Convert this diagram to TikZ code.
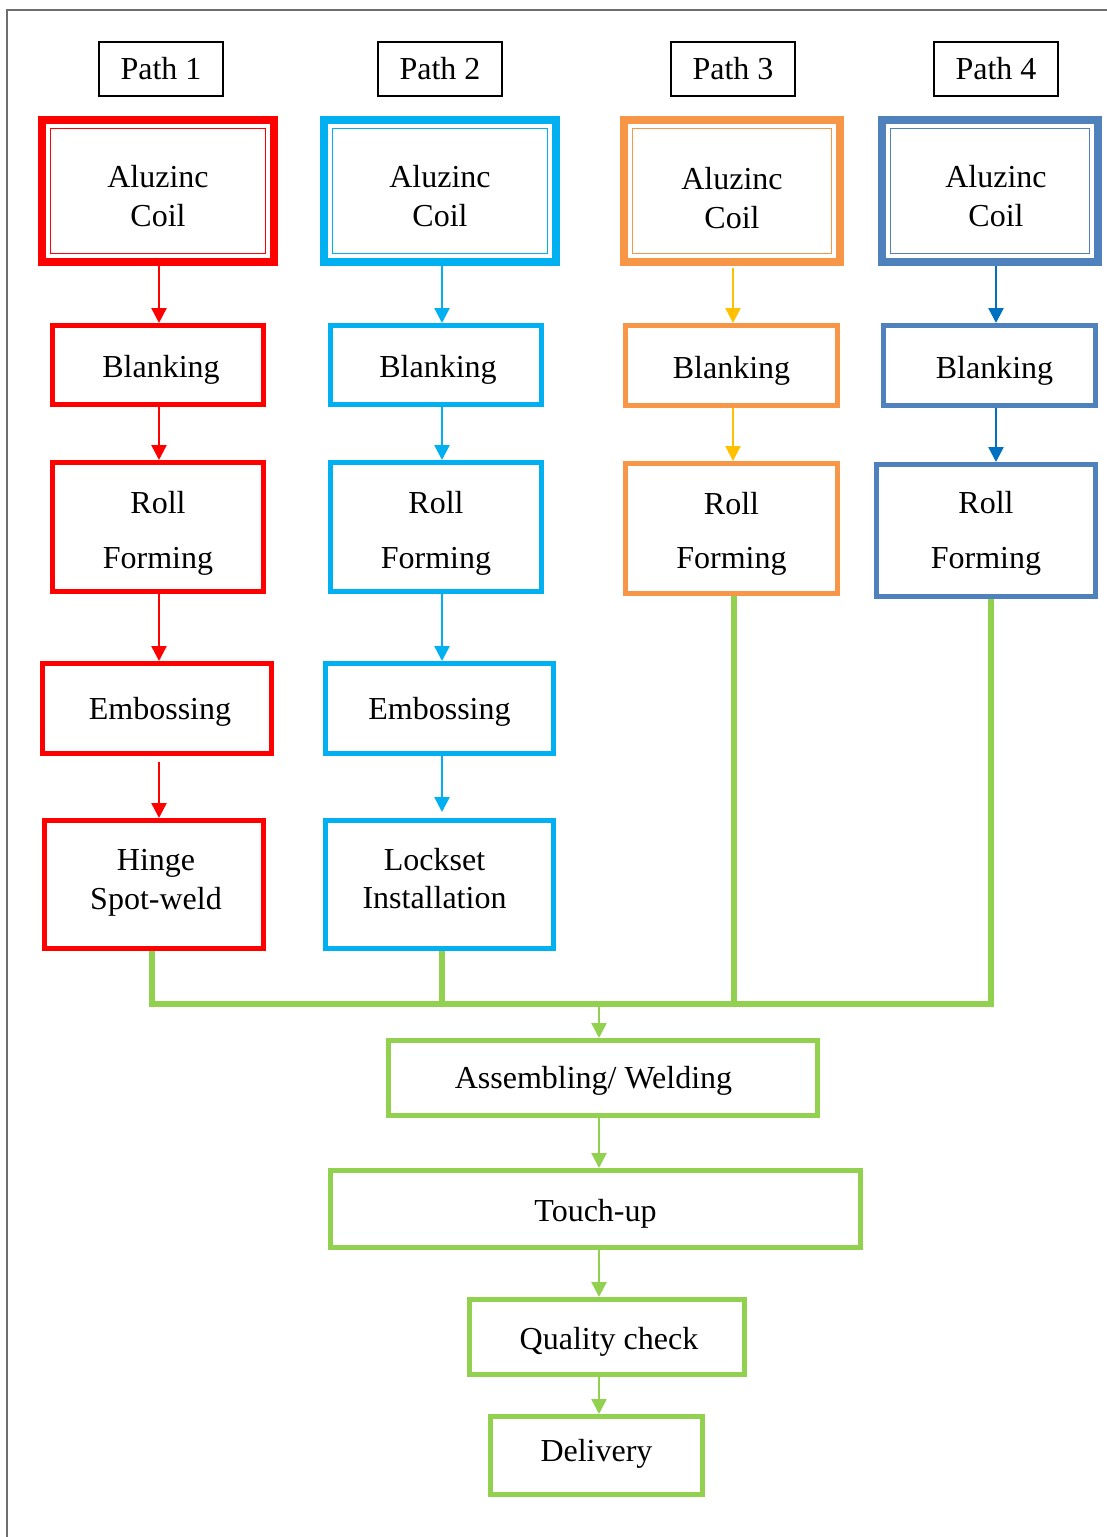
\documentclass[tikz,border=0pt]{standalone}
\usepackage{fontspec}
\setmainfont{Liberation Serif}
\usetikzlibrary{arrows.meta}
\definecolor{cred}{HTML}{FF0000}
\definecolor{ccyan}{HTML}{00B0F0}
\definecolor{corange}{HTML}{F79646}
\definecolor{csteel}{HTML}{4F81BD}
\definecolor{cgreen}{HTML}{92D050}
\definecolor{cyellow}{HTML}{FFC000}
\definecolor{cdblue}{HTML}{0070C0}
\definecolor{cframe}{HTML}{6E6E6E}
% shift node text: #1 horizontal (twice the offset), #2 vertical
\newcommand\mvtext[3]{\hspace*{#1}\raisebox{#2}[\height][\depth]{\begin{tabular}{@{}c@{}}#3\end{tabular}}}
\begin{document}
\begin{tikzpicture}[x=0.5pt,y=-0.5pt,
  every node/.style={font=\fontsize{16}{19.2}\selectfont, align=center, inner sep=0pt},
  pathlabel/.style={draw=black, line width=1pt, minimum width=62pt, minimum height=27pt},
  coil/.style={draw=#1, line width=4pt, minimum height=71pt},
  stepbox/.style={draw=#1, line width=2.5pt},
  arr/.style={draw=#1, line width=1.25pt, -{Triangle[width=7.5pt,length=7.5pt]}},
  gline/.style={draw=cgreen, line width=3pt, line join=miter},
]
\useasboundingbox (0,0) rectangle (1107,1537);
\draw[cframe, line width=0.75pt] (7,1537) -- (7,10) -- (1107,10);

% path labels
\node[pathlabel] (p1) at (161,69) {Path 1};
\node[pathlabel] (p2) at (440,69) {Path 2};
\node[pathlabel] (p3) at (733,69) {Path 3};
\node[pathlabel] (p4) at (996,69) {Path 4};

% coils
\node[coil=cred, minimum width=116pt] (c1) at (158,191) {\mvtext{0pt}{-4.1pt}{Aluzinc\\Coil}};
\node[coil=ccyan, minimum width=116pt] (c2) at (440,191) {\mvtext{0pt}{-4.1pt}{Aluzinc\\Coil}};
\node[coil=corange, minimum width=108pt] (c3) at (732,191) {\mvtext{0pt}{-5.1pt}{Aluzinc\\Coil}};
\node[coil=csteel, minimum width=108pt] (c4) at (990,191) {\mvtext{6pt}{-4.1pt}{Aluzinc\\Coil}};
\foreach \n/\c in {c1/cred,c2/ccyan,c3/corange,c4/csteel}{
  \draw[\c, line width=0.85pt] ([shift={(6.25pt,-6.25pt)}]\n.north west) rectangle ([shift={(-6.25pt,6.25pt)}]\n.south east);
}

% blanking
\node[stepbox=cred, minimum width=105.5pt, minimum height=39.5pt] (b1) at (158,365) {\mvtext{3pt}{-2.5pt}{Blanking}};
\node[stepbox=ccyan, minimum width=105.5pt, minimum height=39.5pt] (b2) at (436,365) {\mvtext{2pt}{-2.5pt}{Blanking}};
\node[stepbox=corange, minimum width=106pt, minimum height=40pt] (b3) at (731.5,365.5) {\mvtext{0pt}{-2.5pt}{Blanking}};
\node[stepbox=csteel, minimum width=106pt, minimum height=40pt] (b4) at (989.5,365.5) {\mvtext{5pt}{-2.5pt}{Blanking}};

% roll forming
\node[stepbox=cred, minimum width=105.5pt, minimum height=64.5pt] (r1) at (158,527) {\mvtext{0pt}{-3.1pt}{Roll\\[8pt]Forming}};
\node[stepbox=ccyan, minimum width=105.5pt, minimum height=64.5pt] (r2) at (436,527) {\mvtext{0pt}{-3.1pt}{Roll\\[8pt]Forming}};
\node[stepbox=corange, minimum width=106pt, minimum height=65pt] (r3) at (731.5,528.5) {\mvtext{0pt}{-2.6pt}{Roll\\[8pt]Forming}};
\node[stepbox=csteel, minimum width=109.5pt, minimum height=66pt] (r4) at (986,530.5) {\mvtext{0pt}{-1.35pt}{Roll\\[8pt]Forming}};

% embossing
\node[stepbox=cred, minimum width=114.5pt, minimum height=45pt] (e1) at (157,708.5) {\mvtext{3pt}{-1.5pt}{Embossing}};
\node[stepbox=ccyan, minimum width=114pt, minimum height=45pt] (e2) at (439.5,708.5) {\mvtext{0pt}{-1.5pt}{Embossing}};

% hinge / lockset
\node[stepbox=cred, minimum width=109.5pt, minimum height=64pt] (h1) at (154,884.5) {\mvtext{2pt}{1.1pt}{Hinge\\Spot-weld}};
\node[stepbox=ccyan, minimum width=114pt, minimum height=64pt] (l2) at (439.5,884.5) {\mvtext{-5pt}{1.4pt}{Lockset\\Installation}};

% green
\node[stepbox=cgreen, minimum width=214.5pt, minimum height=37.5pt] (asm) at (603,1078) {\mvtext{-9.5pt}{-1.5pt}{Assembling/ Welding}};
\node[stepbox=cgreen, minimum width=265pt, minimum height=38.5pt] (tu) at (595.5,1209) {\mvtext{0pt}{-2.5pt}{Touch-up}};
\node[stepbox=cgreen, minimum width=137.5pt, minimum height=37.5pt] (qc) at (607,1337) {\mvtext{2pt}{-2.5pt}{Quality check}};
\node[stepbox=cgreen, minimum width=106pt, minimum height=39pt] (dl) at (596.5,1455.5) {\mvtext{0pt}{1pt}{Delivery}};

% x positions of connectors
\coordinate (xr) at (159,0);
\coordinate (xc) at (442,0);
\coordinate (xo) at (733,0);
\coordinate (xs) at (996,0);
\coordinate (xg) at (599,0);
\coordinate (g1) at (152,0);
\coordinate (g2) at (442,0);
\coordinate (g3) at (734,0);
\coordinate (g4) at (991,0);
\coordinate (j) at (599,1004);

% red arrows
\draw[arr=cred] (c1.south -| xr) -- (b1.north -| xr);
\draw[arr=cred] (b1.south -| xr) -- (r1.north -| xr);
\draw[arr=cred] (r1.south -| xr) -- (e1.north -| xr);
\draw[arr=cred, shorten <=3pt] (e1.south -| xr) -- (h1.north -| xr);
% cyan arrows
\draw[arr=ccyan] (c2.south -| xc) -- (b2.north -| xc);
\draw[arr=ccyan] (b2.south -| xc) -- (r2.north -| xc);
\draw[arr=ccyan] (r2.south -| xc) -- (e2.north -| xc);
\draw[arr=ccyan, shorten >=3pt] (e2.south -| xc) -- (l2.north -| xc);
% orange path arrows
\draw[arr=cyellow, shorten <=1pt] (c3.south -| xo) -- (b3.north -| xo);
\draw[arr=cyellow] (b3.south -| xo) -- (r3.north -| xo);
% steel path arrows
\draw[arr=cdblue] (c4.south -| xs) -- (b4.north -| xs);
\draw[arr=cdblue] (b4.south -| xs) -- (r4.north -| xs);

% green collector
\draw[gline] (h1.south -| g1) |- (j) -| (r4.south -| g4);
\draw[gline] (l2.south -| g2) -- (g2 |- j);
\draw[gline] (r3.south -| g3) -- (g3 |- j);
\draw[arr=cgreen] (j) -- (asm.north -| xg);
\draw[arr=cgreen] (asm.south -| xg) -- (tu.north -| xg);
\draw[arr=cgreen] (tu.south -| xg) -- (qc.north -| xg);
\draw[arr=cgreen] (qc.south -| xg) -- (dl.north -| xg);
\end{tikzpicture}
\end{document}
